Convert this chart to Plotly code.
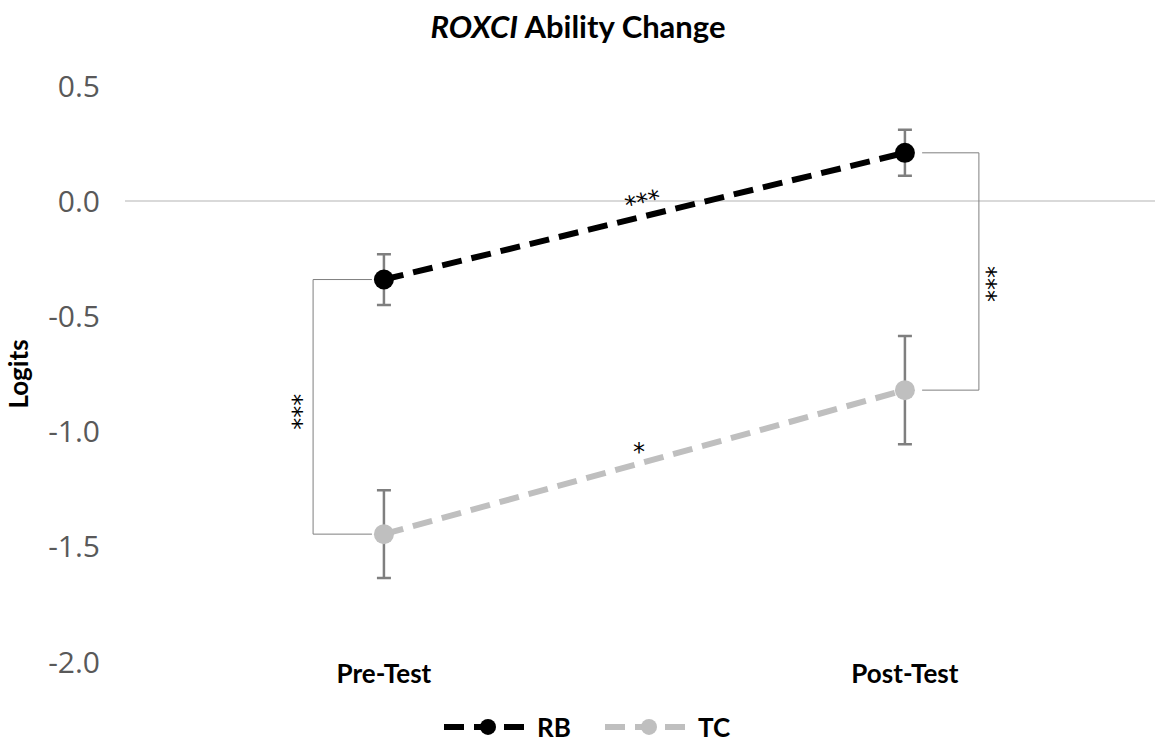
import plotly.graph_objects as go

# Measurement occasions and group means (logits) with error-bar half-widths
occasions = ["Pre-Test", "Post-Test"]
occasion_pos = [0, 1]
rb_mean = [-0.34, 0.21]
rb_err = [0.11, 0.10]
tc_mean = [-1.445, -0.82]
tc_err = [0.19, 0.235]

y_ticks = [0.5, 0.0, -0.5, -1.0, -1.5, -2.0]
y_tick_text = ["0.5", "0.0", "-0.5", "-1.0", "-1.5", "-2.0"]

BOLD_FONT = "Lato"
TICK_FONT = "Open Sans"
BOLD_SIZE = 26

fig = go.Figure()

fig.add_trace(go.Scatter(
    x=occasion_pos, y=rb_mean, name="RB", mode="lines+markers",
    line=dict(color="#000000", width=6, dash="20px,10px"),
    marker=dict(color="#000000", size=20),
    error_y=dict(type="data", array=rb_err, visible=True,
                 color="#7f7f7f", thickness=2.5, width=7),
))
fig.add_trace(go.Scatter(
    x=occasion_pos, y=tc_mean, name="TC", mode="lines+markers",
    line=dict(color="#bfbfbf", width=6, dash="20px,10px"),
    marker=dict(color="#bfbfbf", size=20),
    error_y=dict(type="data", array=tc_err, visible=True,
                 color="#7f7f7f", thickness=2.5, width=7),
))

# Significance brackets between groups at each occasion
bracket_style = dict(color="#7f7f7f", width=1)
lx0, lx1 = -0.136, -0.023
fig.add_shape(type="path", xref="x", yref="y", line=bracket_style,
              path=f"M {lx1},{rb_mean[0]} L {lx0},{rb_mean[0]} L {lx0},{tc_mean[0]} L {lx1},{tc_mean[0]}")
rx0, rx1 = 1.033, 1.142
fig.add_shape(type="path", xref="x", yref="y", line=bracket_style,
              path=f"M {rx0},{rb_mean[1]} L {rx1},{rb_mean[1]} L {rx1},{tc_mean[1]} L {rx0},{tc_mean[1]}")

star_font = dict(family="DejaVu Sans", size=24, color="#000000")
fig.add_annotation(x=-0.174, y=-0.915, xref="x", yref="y", text="***",
                   textangle=90, showarrow=False, font=star_font)
fig.add_annotation(x=1.158, y=-0.36, xref="x", yref="y", text="***",
                   textangle=90, showarrow=False, font=star_font)
fig.add_annotation(x=0.497, y=(rb_mean[0] + rb_mean[1]) / 2, xref="x", yref="y",
                   text="***", textangle=-14, showarrow=False, yshift=14,
                   font=star_font)
fig.add_annotation(x=0.49, y=(tc_mean[0] + tc_mean[1]) / 2, xref="x", yref="y",
                   text="*", showarrow=False, yshift=10, font=star_font)

bold = dict(family=BOLD_FONT, size=BOLD_SIZE, color="#000000", weight="bold")

fig.update_layout(
    width=1159, height=745,
    paper_bgcolor="white", plot_bgcolor="white",
    margin=dict(l=125, r=4, t=86, b=83, autoexpand=False),
    title=dict(text="<i>ROXCI</i> Ability Change", x=578 / 1159, xanchor="center",
               xref="container", y=1 - 27 / 745, yanchor="middle", yref="container",
               font=dict(family=BOLD_FONT, size=31, color="#000000", weight="bold")),
    xaxis=dict(range=[-0.497, 1.48], tickvals=occasion_pos, ticktext=occasions,
               showgrid=False, zeroline=False, showline=False, ticks="",
               ticklabelstandoff=-6, tickfont=bold),
    yaxis=dict(range=[-2.0, 0.5], tickvals=y_ticks, ticktext=y_tick_text,
               showgrid=False, zeroline=True, zerolinecolor="#d9d9d9", zerolinewidth=2,
               showline=False, ticks="", ticklabelstandoff=24,
               tickfont=dict(family=TICK_FONT, size=30, color="#595959"),
               title=dict(text="Logits", standoff=12, font=bold)),
    legend=dict(orientation="h", x=439 / 1159, xanchor="left", xref="container",
                y=1 - 727 / 745, yanchor="middle", yref="container",
                itemwidth=88, entrywidth=58, entrywidthmode="pixels",
                font=dict(family=BOLD_FONT, size=26, color="#000000", weight="bold"),
                bgcolor="rgba(0,0,0,0)"),
    showlegend=True,
)

fig.write_html("out.html")
